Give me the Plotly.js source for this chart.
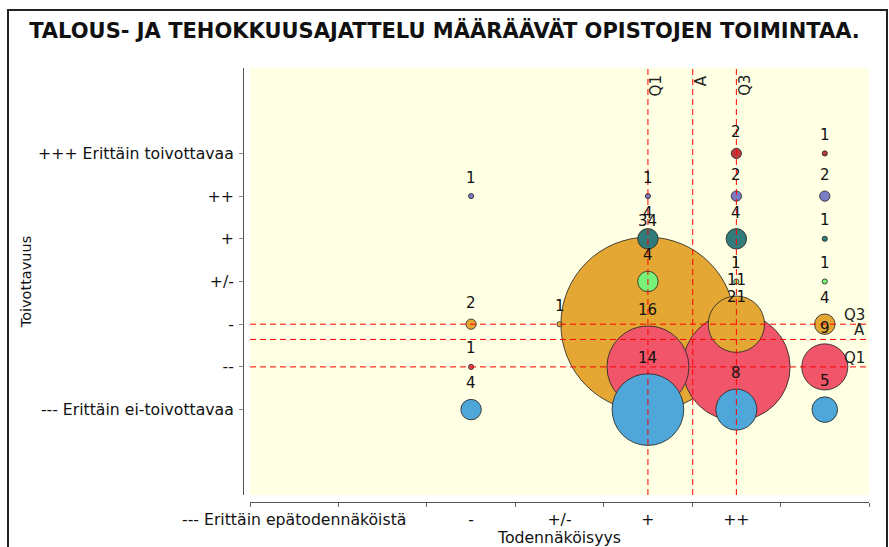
<!DOCTYPE html>
<html><head><meta charset="utf-8">
<script src="https://cdn.plot.ly/plotly-3.0.1.min.js"></script>
<style>
html,body{margin:0;padding:0;background:#fff;}
#chart{position:absolute;left:0;top:0;width:889px;height:547px;}
#frame{position:absolute;left:7px;top:9px;width:881px;height:600px;border:2px solid #222;box-sizing:border-box;pointer-events:none;}
</style>
</head><body>
<div id="chart"></div><div id="frame"></div>
<script>
// Likelihood (x) categories and the tick texts shown on the axis
const xCategories = ['--- Erittäin epätodennäköistä', '--', '-', '+/-', '+', '++', '+++'];
const xTickText = ['--- Erittäin epätodennäköistä', '', '-', '+/-', '+', '++', ''];
// Desirability (y) categories
const yCategories = ['--- Erittäin ei-toivottavaa', '--', '-', '+/-', '+', '++', '+++ Erittäin toivottavaa'];

// Counts per desirability row, one value per likelihood column (index 0..6)
const rowVeryUndesirable = [0, 0, 4, 0, 14, 8, 5];   // '---'
const rowUndesirable2    = [0, 0, 1, 0, 16, 21, 9];  // '--'
const rowUndesirable1    = [0, 0, 2, 1, 34, 11, 4];  // '-'
const rowNeutral         = [0, 0, 0, 0, 4, 1, 1];    // '+/-'
const rowDesirable1      = [0, 0, 0, 0, 4, 4, 1];    // '+'
const rowDesirable2      = [0, 0, 1, 0, 1, 2, 2];    // '++'
const rowVeryDesirable   = [0, 0, 0, 0, 0, 2, 1];    // '+++'

const rows = [rowVeryUndesirable, rowUndesirable2, rowUndesirable1, rowNeutral, rowDesirable1, rowDesirable2, rowVeryDesirable];
const rowColors = ['#4fa6d8', '#f0556a', '#e5a734', '#79f279', '#327b7b', '#7b7bc8', '#b8393e'];

const PX_PER_UNIT = 5.12; // bubble diameter (px) per respondent

// build points, larger bubbles drawn first
let pts = [];
rows.forEach((row, yi) => row.forEach((v, xi) => { if (v > 0) pts.push({x: xi, y: yi, v: v, c: rowColors[yi]}); }));
pts.sort((a, b) => b.v - a.v);

// statistics (mean and nearest-rank quartiles)
function stats(getIdx) {
  let counts = new Array(7).fill(0);
  rows.forEach((row, yi) => row.forEach((v, xi) => { counts[getIdx(xi, yi)] += v; }));
  const n = counts.reduce((a, b) => a + b, 0);
  const mean = counts.reduce((a, c, i) => a + c * i, 0) / n;
  function q(p) { const r = Math.ceil(p * n); let cum = 0; for (let i = 0; i < 7; i++) { cum += counts[i]; if (cum >= r) return i; } }
  return {q1: q(0.25), mean: mean, q3: q(0.75)};
}
const sx = stats((xi, yi) => xi);
const sy = stats((xi, yi) => yi);

const fontFam = 'DejaVu Sans';
const X_RANGE = [-0.5, 6.5], Y_RANGE = [-2, 8];
const traces = [{
  type: 'scatter', mode: 'markers',
  x: pts.map(p => p.x), y: pts.map(p => p.y),
  marker: {
    size: pts.map(p => p.v), sizemode: 'diameter', sizeref: 1 / PX_PER_UNIT,
    color: pts.map(p => p.c), opacity: 1,
    line: {color: 'rgba(40,40,40,0.85)', width: 1}
  },
  hoverinfo: 'skip', showlegend: false
}];

const redLine = {color: '#ff0000', width: 1, dash: '6px,4px'};
[sx.q1, sx.mean, sx.q3].forEach(v => traces.push({type: 'scatter', mode: 'lines', x: [v, v], y: Y_RANGE, line: redLine, hoverinfo: 'skip', showlegend: false, cliponaxis: true}));
[sy.q1, sy.mean, sy.q3].forEach(v => traces.push({type: 'scatter', mode: 'lines', x: X_RANGE, y: [v, v], line: redLine, hoverinfo: 'skip', showlegend: false, cliponaxis: true}));

const annotations = pts.map(p => ({
  x: p.x, y: p.y, xref: 'x', yref: 'y', text: String(p.v), showarrow: false,
  xanchor: 'center', yanchor: 'middle', yshift: p.v * PX_PER_UNIT / 2 + 16,
  font: {family: fontFam, size: 15, color: '#111'}
}));

[['Q1', sx.q1], ['A', sx.mean], ['Q3', sx.q3]].forEach(([t, v]) => annotations.push({
  x: v, xref: 'x', y: 1, yref: 'y domain', text: t, showarrow: false, textangle: -90,
  xanchor: 'center', yanchor: 'top', xshift: 8, yshift: -5,
  font: {family: fontFam, size: 15, color: '#222'}
}));
[['Q3', sy.q3], ['A', sy.mean], ['Q1', sy.q1]].forEach(([t, v]) => annotations.push({
  x: 1, xref: 'x domain', y: v, yref: 'y', text: t, showarrow: false,
  xanchor: 'right', yanchor: 'bottom', xshift: -3, yshift: -1, borderpad: 0,
  font: {family: fontFam, size: 15, color: '#222'}
}));

const W = 626, H = 434;
const layout = {
  width: 889, height: 547,
  margin: {l: 243, r: 20, t: 68, b: 45, pad: 0},
  paper_bgcolor: '#ffffff', plot_bgcolor: '#ffffe3',
  title: {text: 'TALOUS- JA TEHOKKUUSAJATTELU MÄÄRÄÄVÄT OPISTOJEN TOIMINTAA.', x: 0.5, xanchor: 'center', y: 1 - 31 / 547, yanchor: 'middle',
    font: {family: fontFam, size: 21, weight: 700, color: '#111'}},
  xaxis: {
    domain: [7 / W, 1], range: X_RANGE, anchor: 'free', position: 0,
    tickmode: 'array', tickvals: [0, 1, 2, 3, 4, 5, 6], ticktext: xTickText,
    ticks: '', showgrid: false, zeroline: false, showline: true, linecolor: '#555', linewidth: 1,
    minor: {tick0: -0.5, dtick: 1, ticks: 'outside', ticklen: 4, tickcolor: '#666', showgrid: false},
    tickfont: {family: fontFam, size: 15.7, color: '#111'}, ticklabelstandoff: 3,
    title: {text: 'Todennäköisyys', font: {family: fontFam, size: 15.7, color: '#111'}, standoff: 0},
    fixedrange: true
  },
  yaxis: {
    domain: [7 / H, 1], range: Y_RANGE, anchor: 'free', position: 0,
    tickmode: 'array', tickvals: [0, 1, 2, 3, 4, 5, 6], ticktext: yCategories,
    ticks: 'outside', ticklen: 4, tickcolor: '#888',
    showgrid: false, zeroline: false, showline: true, linecolor: '#555', linewidth: 1,
    tickfont: {family: fontFam, size: 15.7, color: '#111'}, ticklabelstandoff: 2,
    title: {text: 'Toivottavuus', font: {family: fontFam, size: 14.5, color: '#111'}, standoff: 2},
    fixedrange: true
  },
  annotations: annotations
};

Plotly.newPlot('chart', traces, layout, {displayModeBar: false, staticPlot: true});
</script>
</body></html>
